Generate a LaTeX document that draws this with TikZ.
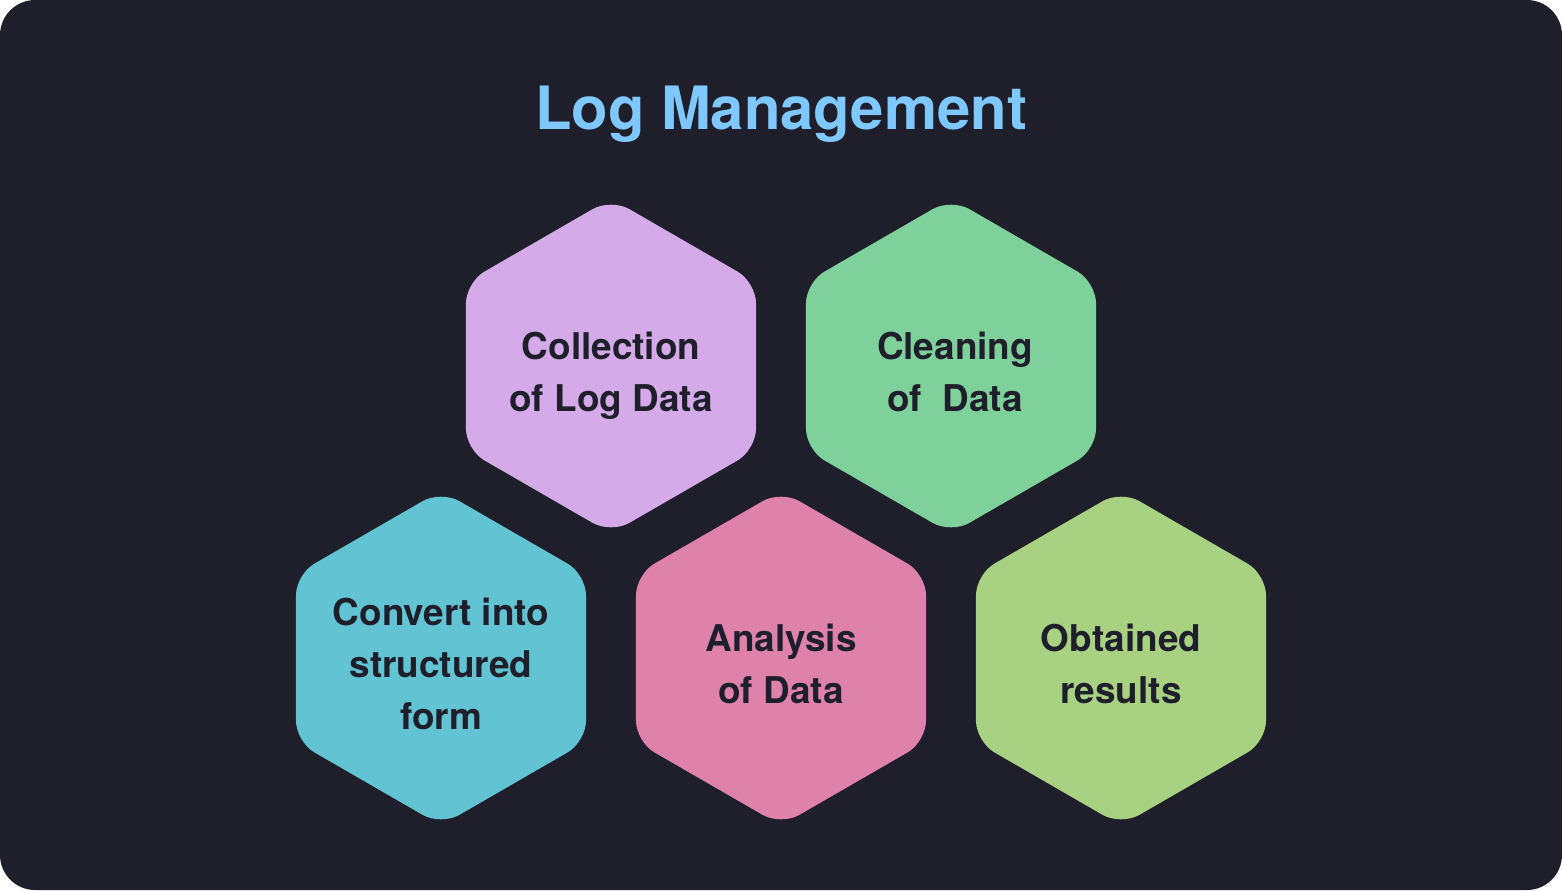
\documentclass[tikz,border=0pt]{standalone}
\usepackage{fontspec}
\setmainfont{TeX Gyre Heros}
\usepackage{xcolor}
\usetikzlibrary{shapes.geometric, positioning}

\definecolor{bgdark}{HTML}{1E1F2B}
\definecolor{titleblue}{HTML}{7FC8FF}
\definecolor{hexpurple}{HTML}{D4ABE8}
\definecolor{hexgreen}{HTML}{7FD19C}
\definecolor{hexcyan}{HTML}{62C4D2}
\definecolor{hexpink}{HTML}{DF82A9}
\definecolor{hexlime}{HTML}{A8D282}

\begin{document}
\begin{tikzpicture}[
  x=0.02cm, y=-0.02cm,
  hexbox/.style={regular polygon, regular polygon sides=6, shape border rotate=30,
                 minimum size=6.7cm, inner sep=0pt, rounded corners=12pt},
  hextext/.style={align=center, text=bgdark, inner sep=0pt, yshift=-0.2cm,
                  font=\fontsize{21}{29.6}\selectfont\bfseries},
  titletext/.style={text=titleblue, font=\fontsize{34}{40}\selectfont\bfseries}
]

% background
\fill[white] (0,0) rectangle (1562,890);
\fill[bgdark, rounded corners=20pt] (0,0) rectangle (1562,890);
\useasboundingbox (0,0) rectangle (1562,890);

\node[titletext, anchor=base] (title) at (781,129) {Log Management};

% top row
\node[hexbox, fill=hexpurple] (collect) at (611,366) {};
\node[hexbox, fill=hexgreen] (clean) at (951,366) {};

% bottom row
\node[hexbox, fill=hexcyan] (convert) at (441,658) {};
\node[hexbox, fill=hexpink] (analyse) at (781,658) {};
\node[hexbox, fill=hexlime] (results) at (1121,658) {};

% texts
\node[hextext] (collect-t) at (collect.center) {Collection\\of Log Data};
\node[hextext, xshift=0.08cm, yshift=0.09cm] (clean-t) at (clean.center) {Cleaning\\of~ Data};
\node[hextext, yshift=0.08cm] (convert-t) at (convert.center) {Convert into\\structured\\form};
\node[hextext, yshift=0.09cm] (analyse-t) at (analyse.center) {Analysis\\of Data};
\node[hextext, yshift=0.09cm] (results-t) at (results.center) {Obtained\\results};

\end{tikzpicture}
\end{document}
